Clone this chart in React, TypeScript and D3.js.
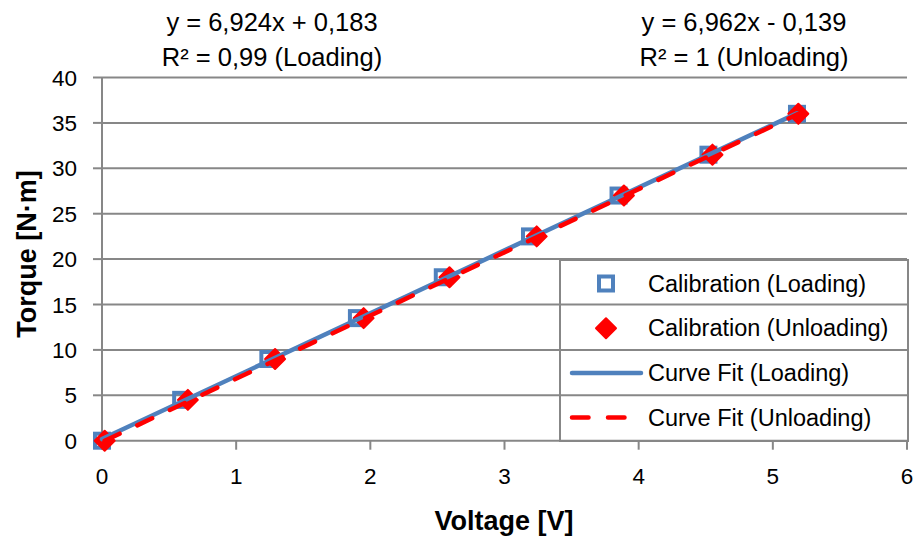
import React from "react";
import * as d3 from "d3";

const torque = [0, 4.5, 9, 13.5, 18, 22.5, 27, 31.5, 36];
const voltageLoading = [0, 0.59, 1.24, 1.9, 2.54, 3.19, 3.85, 4.52, 5.18];
const voltageUnloading = [0.02, 0.64, 1.29, 1.95, 2.59, 3.24, 3.89, 4.55, 5.19];
const fitLoading = { slope: 6.924, intercept: 0.183 };
const fitUnloading = { slope: 6.962, intercept: -0.139 };
const xTicks = [0, 1, 2, 3, 4, 5, 6];
const yTicks = [0, 5, 10, 15, 20, 25, 30, 35, 40];
const legendLabels = [
  "Calibration (Loading)",
  "Calibration (Unloading)",
  "Curve Fit (Loading)",
  "Curve Fit (Unloading)",
];
const eqLoading = ["y = 6,924x + 0,183", "R² = 0,99 (Loading)"];
const eqUnloading = ["y = 6,962x - 0,139", "R² = 1 (Unloading)"];

const W = 916;
const H = 536;
const BLUE = "#4F81BD";
const RED = "#FF0000";
const GRID = "#878787";
const FONT = "'Liberation Sans', Arial, sans-serif";

export default function App() {
  const x = d3.scaleLinear().domain([0, 6]).range([102, 907]);
  const y = d3.scaleLinear().domain([0, 40]).range([440.7, 77.5]);

  const lineGen = d3
    .line<[number, number]>()
    .x((d) => x(d[0]))
    .y((d) => y(d[1]));

  const loadX0 = d3.min(voltageLoading)!;
  const loadX1 = d3.max(voltageLoading)!;
  const unX0 = d3.min(voltageUnloading)!;
  const unX1 = d3.max(voltageUnloading)!;
  const fitL: [number, number][] = [
    [loadX0, fitLoading.slope * loadX0 + fitLoading.intercept],
    [loadX1, fitLoading.slope * loadX1 + fitLoading.intercept],
  ];
  const fitU: [number, number][] = [
    [unX0, fitUnloading.slope * unX0 + fitUnloading.intercept],
    [unX1, fitUnloading.slope * unX1 + fitUnloading.intercept],
  ];

  const sq = 14;
  const dh = 10;
  const diamond = (cx: number, cy: number) =>
    `M${cx},${cy - dh}L${cx + dh},${cy}L${cx},${cy + dh}L${cx - dh},${cy}Z`;

  const dashed = "16.5 19.5";

  const legX = 560;
  const legY = 260;
  const legW = 348;
  const legH = 181;
  const rowH = 44.7;
  const rowC = (i: number) => legY + 23.5 + i * rowH;
  const markX = 606;
  const textX = 648;

  return (
    <svg
      width={W}
      height={H}
      style={{ position: "absolute", left: 0, top: 0, background: "#fff" }}
      fontFamily={FONT}
    >
      {/* gridlines */}
      {yTicks
        .filter((t) => t > 0)
        .map((t) => (
          <line
            key={"g" + t}
            x1={x(0)}
            x2={x(6)}
            y1={y(t)}
            y2={y(t)}
            stroke={GRID}
            strokeWidth={2}
          />
        ))}
      {/* axes */}
      <line x1={x(0)} x2={x(0)} y1={y(40)} y2={y(0)} stroke={GRID} strokeWidth={2} />
      <line x1={x(0)} x2={x(6)} y1={y(0)} y2={y(0)} stroke={GRID} strokeWidth={2} />
      {yTicks.map((t) => (
        <g key={"yt" + t}>
          <line x1={x(0) - 9} x2={x(0)} y1={y(t)} y2={y(t)} stroke={GRID} strokeWidth={2} />
          <text
            x={77}
            y={y(t) + 8}
            textAnchor="end"
            fontSize={22.5}
            fill="#000"
          >
            {t}
          </text>
        </g>
      ))}
      {xTicks.map((t) => (
        <g key={"xt" + t}>
          <line x1={x(t)} x2={x(t)} y1={y(0)} y2={y(0) + 9} stroke={GRID} strokeWidth={2} />
          <text x={x(t)} y={484} textAnchor="middle" fontSize={22.5} fill="#000">
            {t}
          </text>
        </g>
      ))}

      {/* axis titles */}
      <text x={504} y={530} textAnchor="middle" fontSize={27} fontWeight="bold" fill="#000">
        Voltage [V]
      </text>
      <text
        transform={`translate(36,254) rotate(-90)`}
        textAnchor="middle"
        fontSize={27}
        fontWeight="bold"
        fill="#000"
      >
        Torque [N·m]
      </text>

      {/* equations */}
      {eqLoading.map((s, i) => (
        <text key={"el" + i} x={272} y={31 + i * 35} textAnchor="middle" fontSize={25.5} fill="#000">
          {s}
        </text>
      ))}
      {eqUnloading.map((s, i) => (
        <text key={"eu" + i} x={744} y={31 + i * 35} textAnchor="middle" fontSize={25.5} fill="#000">
          {s}
        </text>
      ))}

      {/* markers */}
      {torque.map((t, i) => (
        <rect
          key={"sq" + i}
          x={x(voltageLoading[i]) - sq / 2}
          y={y(t) - sq / 2}
          width={sq}
          height={sq}
          fill="none"
          stroke={BLUE}
          strokeWidth={4}
        />
      ))}
      {torque.map((t, i) => (
        <path
          key={"dm" + i}
          d={diamond(x(voltageUnloading[i]), y(t))}
          fill={RED}
          stroke={RED}
          strokeWidth={2}
          strokeLinejoin="round"
        />
      ))}

      {/* fit lines */}
      <path d={lineGen(fitL)!} stroke={BLUE} strokeWidth={4.5} fill="none" strokeLinecap="round" />
      <path
        d={lineGen(fitU)!}
        stroke={RED}
        strokeWidth={4.5}
        fill="none"
        strokeLinecap="round"
        strokeDasharray={dashed}
      />

      {/* legend */}
      <rect x={legX} y={legY} width={legW} height={legH} fill="none" stroke={GRID} strokeWidth={2} />
      <rect
        x={markX - sq / 2}
        y={rowC(0) - sq / 2}
        width={sq}
        height={sq}
        fill="none"
        stroke={BLUE}
        strokeWidth={4}
      />
      <path d={diamond(markX, rowC(1))} fill={RED} stroke={RED} strokeWidth={2} strokeLinejoin="round" />
      <line x1={572} x2={641} y1={rowC(2)} y2={rowC(2)} stroke={BLUE} strokeWidth={4.5} strokeLinecap="round" />
      <line
        x1={572}
        x2={641}
        y1={rowC(3)}
        y2={rowC(3)}
        stroke={RED}
        strokeWidth={4.5}
        strokeLinecap="round"
        strokeDasharray={dashed}
      />
      {legendLabels.map((s, i) => (
        <text key={"lg" + i} x={textX} y={rowC(i) + 8} fontSize={23.5} fill="#000">
          {s}
        </text>
      ))}
    </svg>
  );
}
